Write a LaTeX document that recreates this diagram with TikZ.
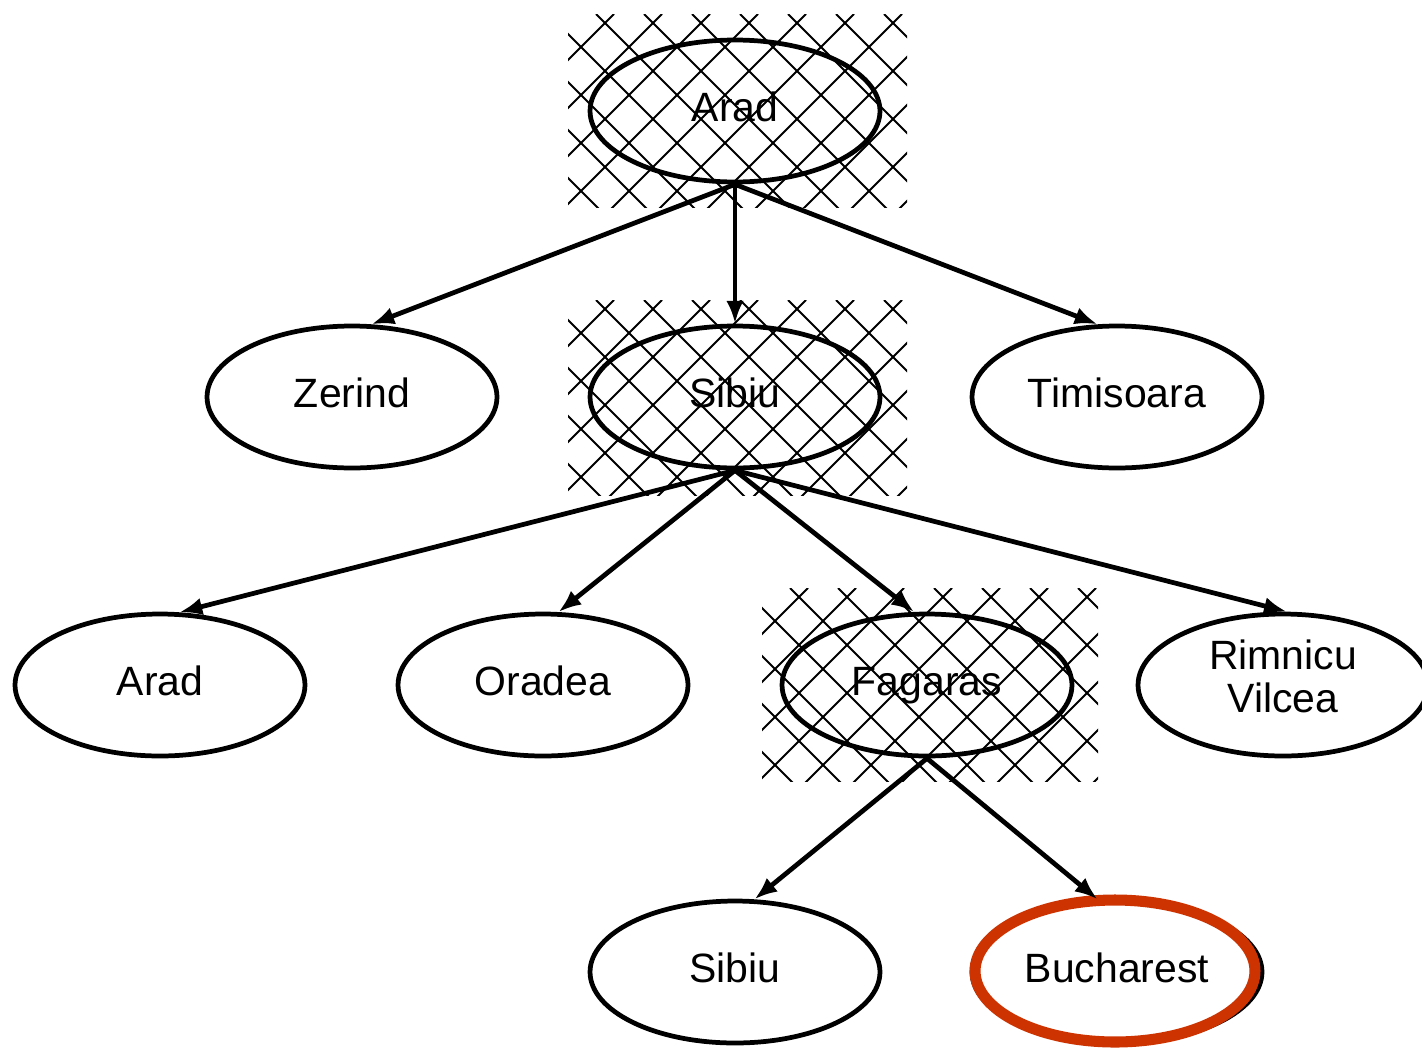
\documentclass[tikz,border=0pt]{standalone}
\usepackage{fontspec}
\setmainfont{Liberation Sans}
\usetikzlibrary{shapes.geometric,arrows.meta,calc}
\definecolor{goalred}{RGB}{204,51,0}
% cross hatched box behind an expanded node
\newcommand{\hatchbox}[4]{%
  \begin{scope}
    \clip (#1,#2) rectangle (#3,#4);
    \foreach \k in {-5,...,12}
      \draw[hatch] (#1+28+\k*48,#2) -- ++(260,260);
    \foreach \k in {0,...,12}
      \draw[hatch] (#1-2+\k*48,#2) -- ++(-260,260);
  \end{scope}}
\begin{document}
\begin{tikzpicture}[x = 0.02cm, y = -0.02cm,
    city/.style = {ellipse, draw, line width = 2.7pt, minimum width = 5.8cm,
      minimum height = 2.84cm, inner sep = 0pt, align = center,
      text height = 16.8pt, text depth = 4.9pt,
      font = \fontsize{23.3pt}{24pt}\selectfont},
    hatch/.style = {line width = 1.1pt},
    edge/.style = {line width = 2.7pt, -{Latex[length = 13pt, width = 10pt]}},
    ring/.style = {draw = goalred, line width = 6.3pt}]
		\useasboundingbox (0, 0) rectangle (1422, 1048);
		% hatching of expanded nodes
		\hatchbox{568}{14}{907}{207}
		\hatchbox{568}{300}{907}{495}
		\hatchbox{762}{588}{1098}{781}
		% level 0
		\node[city] (arad) at (735, 111) {Arad};
		% level 1
		\node[city] (zerind) at (352, 397) {Zerind};
		\node[city] (sibiu) at (735, 397) {Sibiu};
		\node[city] (timisoara) at (1117, 397) {Timisoara};
		% level 2
		\node[city] (aradb) at (160, 685) {Arad};
		\node[city] (oradea) at (543, 685) {Oradea};
		\node[city] (fagaras) at (927, 685) {Fagaras};
		\node[city, text height =, text depth = 10pt] (rimnicu) at (1283, 685) {Rimnicu\\Vilcea};
		% level 3
		\node[city] (sibiub) at (735, 972) {Sibiu};
		\node[city] (bucharest) at (1117, 972) {Bucharest};
		% goal
		\draw[ring] ($(bucharest.center) + (-2, -1)$) ellipse [x radius = 2.8cm, y radius = 1.42cm];
		% edges
		\draw[edge] (arad.south) -- (zerind.75);
		\draw[edge] (arad.south) -- (sibiu.north);
		\draw[edge] (arad.south) -- (timisoara.105);
		\draw[edge] (sibiu.south) -- (aradb.75);
		\draw[edge] (sibiu.south) -- (oradea.78);
		\draw[edge] (sibiu.south) -- (fagaras.100);
		\draw[edge] (sibiu.south) -- (rimnicu.87);
		\draw[edge] (fagaras.south) -- (sibiub.75);
		\draw[edge] (fagaras.south) -- (bucharest.105);
	\end{tikzpicture}
\end{document}
